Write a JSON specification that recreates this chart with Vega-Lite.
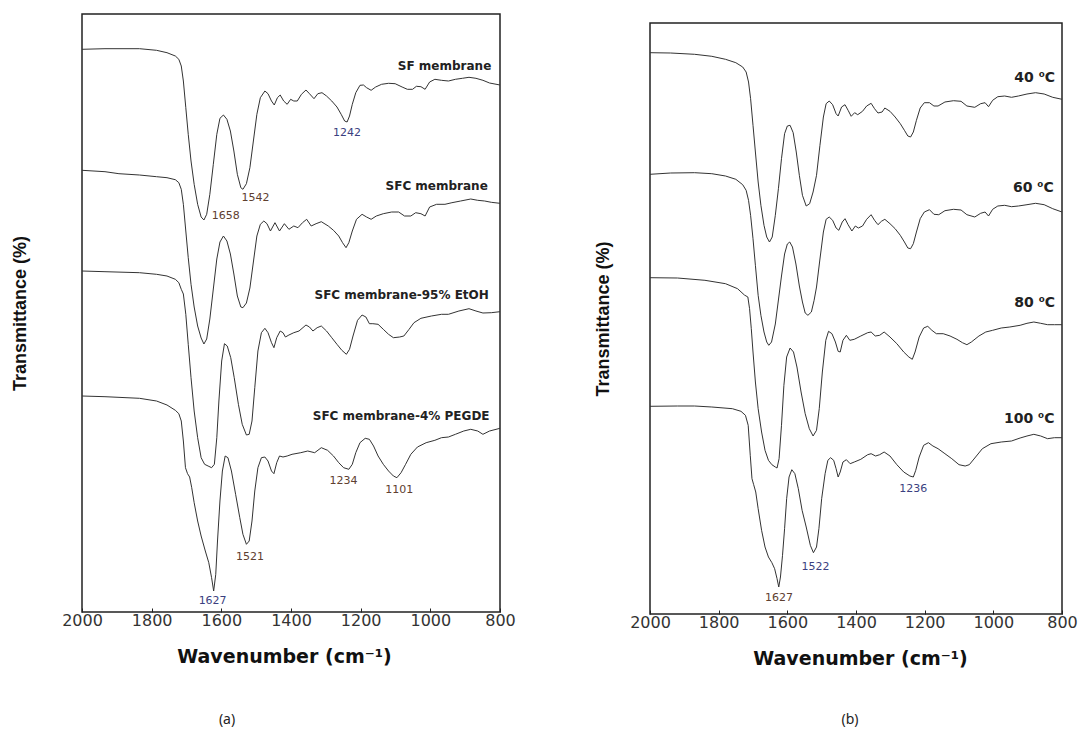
{
  "$schema": "https://vega.github.io/schema/vega-lite/v6.json",
  "background": "white",
  "padding": {"left": 10, "top": 13, "right": 0, "bottom": 0},
  "spacing": 76,
  "config": {
    "view": {"stroke": "#222", "strokeWidth": 1.5},
    "axis": {"grid": false},
    "font": "DejaVu Sans"
  },
  "datasets": {
    "a": [
      {"s":"SF","w":2000,"t":562.7},{"s":"SF","w":1934,"t":563.3},{"s":"SF","w":1835,"t":563.3},{"s":"SF","w":1786,"t":561.7},{"s":"SF","w":1756,"t":559.3},{"s":"SF","w":1732,"t":556},{"s":"SF","w":1722,"t":552.7},{"s":"SF","w":1715,"t":546},{"s":"SF","w":1709,"t":531},{"s":"SF","w":1702,"t":504.3},{"s":"SF","w":1695,"t":477.7},{"s":"SF","w":1687,"t":451},{"s":"SF","w":1678,"t":427.7},{"s":"SF","w":1668,"t":407.7},{"s":"SF","w":1658,"t":395},{"s":"SF","w":1650,"t":392},{"s":"SF","w":1642,"t":397.7},{"s":"SF","w":1633,"t":417.7},{"s":"SF","w":1623,"t":447.7},{"s":"SF","w":1613,"t":477.7},{"s":"SF","w":1604,"t":493.7},{"s":"SF","w":1594,"t":497},{"s":"SF","w":1584,"t":492.7},{"s":"SF","w":1574,"t":481},{"s":"SF","w":1564,"t":461},{"s":"SF","w":1554,"t":437.7},{"s":"SF","w":1544,"t":424.3},{"s":"SF","w":1538,"t":422.7},{"s":"SF","w":1528,"t":428.3},{"s":"SF","w":1518,"t":444.3},{"s":"SF","w":1508,"t":471},{"s":"SF","w":1498,"t":497.7},{"s":"SF","w":1488,"t":514.3},{"s":"SF","w":1475,"t":521},{"s":"SF","w":1466,"t":518.3},{"s":"SF","w":1456,"t":511},{"s":"SF","w":1448,"t":507},{"s":"SF","w":1439,"t":514.3},{"s":"SF","w":1431,"t":517},{"s":"SF","w":1421,"t":511},{"s":"SF","w":1411,"t":507.7},{"s":"SF","w":1401,"t":512.7},{"s":"SF","w":1392,"t":511},{"s":"SF","w":1382,"t":511},{"s":"SF","w":1370,"t":517.7},{"s":"SF","w":1357,"t":522},{"s":"SF","w":1347,"t":518.3},{"s":"SF","w":1334,"t":513.3},{"s":"SF","w":1323,"t":518.3},{"s":"SF","w":1311,"t":519.3},{"s":"SF","w":1298,"t":516},{"s":"SF","w":1283,"t":511},{"s":"SF","w":1268,"t":505},{"s":"SF","w":1256,"t":497.7},{"s":"SF","w":1246,"t":491},{"s":"SF","w":1239,"t":490},{"s":"SF","w":1232,"t":496},{"s":"SF","w":1224,"t":507.7},{"s":"SF","w":1214,"t":519.3},{"s":"SF","w":1202,"t":526.7},{"s":"SF","w":1192,"t":527},{"s":"SF","w":1183,"t":524.3},{"s":"SF","w":1170,"t":521.7},{"s":"SF","w":1157,"t":525},{"s":"SF","w":1140,"t":527.7},{"s":"SF","w":1120,"t":528.7},{"s":"SF","w":1101,"t":528.3},{"s":"SF","w":1081,"t":525},{"s":"SF","w":1066,"t":522.7},{"s":"SF","w":1051,"t":522.7},{"s":"SF","w":1040,"t":525.7},{"s":"SF","w":1027,"t":525.3},{"s":"SF","w":1015,"t":522.7},{"s":"SF","w":1002,"t":530},{"s":"SF","w":987,"t":532.7},{"s":"SF","w":968,"t":531.7},{"s":"SF","w":948,"t":531},{"s":"SF","w":928,"t":532.7},{"s":"SF","w":908,"t":533.7},{"s":"SF","w":889,"t":534.7},{"s":"SF","w":869,"t":533.7},{"s":"SF","w":849,"t":531.7},{"s":"SF","w":830,"t":529},{"s":"SF","w":800,"t":527},
      {"s":"SFC","w":2000,"t":441.7},{"s":"SFC","w":1934,"t":440.3},{"s":"SFC","w":1894,"t":438.3},{"s":"SFC","w":1835,"t":437},{"s":"SFC","w":1786,"t":435.3},{"s":"SFC","w":1756,"t":434.3},{"s":"SFC","w":1732,"t":432.3},{"s":"SFC","w":1722,"t":429.3},{"s":"SFC","w":1715,"t":422.7},{"s":"SFC","w":1709,"t":407.7},{"s":"SFC","w":1702,"t":381},{"s":"SFC","w":1695,"t":354.3},{"s":"SFC","w":1687,"t":327.7},{"s":"SFC","w":1678,"t":305},{"s":"SFC","w":1668,"t":286},{"s":"SFC","w":1658,"t":274},{"s":"SFC","w":1650,"t":268},{"s":"SFC","w":1642,"t":273},{"s":"SFC","w":1633,"t":293},{"s":"SFC","w":1623,"t":323},{"s":"SFC","w":1613,"t":353},{"s":"SFC","w":1604,"t":370},{"s":"SFC","w":1594,"t":376},{"s":"SFC","w":1584,"t":371},{"s":"SFC","w":1574,"t":358},{"s":"SFC","w":1564,"t":338},{"s":"SFC","w":1554,"t":316},{"s":"SFC","w":1544,"t":305},{"s":"SFC","w":1538,"t":304.3},{"s":"SFC","w":1528,"t":309},{"s":"SFC","w":1518,"t":324},{"s":"SFC","w":1508,"t":350},{"s":"SFC","w":1498,"t":376},{"s":"SFC","w":1488,"t":387.7},{"s":"SFC","w":1478,"t":391},{"s":"SFC","w":1469,"t":388.3},{"s":"SFC","w":1459,"t":381},{"s":"SFC","w":1446,"t":389.3},{"s":"SFC","w":1433,"t":381},{"s":"SFC","w":1419,"t":388.3},{"s":"SFC","w":1406,"t":382.7},{"s":"SFC","w":1392,"t":386},{"s":"SFC","w":1380,"t":384.3},{"s":"SFC","w":1367,"t":389.3},{"s":"SFC","w":1355,"t":392.7},{"s":"SFC","w":1342,"t":386},{"s":"SFC","w":1328,"t":388.3},{"s":"SFC","w":1313,"t":390.3},{"s":"SFC","w":1293,"t":386},{"s":"SFC","w":1278,"t":381.7},{"s":"SFC","w":1263,"t":376},{"s":"SFC","w":1252,"t":369.3},{"s":"SFC","w":1242,"t":364.3},{"s":"SFC","w":1234,"t":369.3},{"s":"SFC","w":1224,"t":381},{"s":"SFC","w":1212,"t":392.7},{"s":"SFC","w":1196,"t":397.7},{"s":"SFC","w":1183,"t":395},{"s":"SFC","w":1170,"t":392.7},{"s":"SFC","w":1155,"t":396},{"s":"SFC","w":1135,"t":398.3},{"s":"SFC","w":1111,"t":400},{"s":"SFC","w":1091,"t":400},{"s":"SFC","w":1074,"t":396},{"s":"SFC","w":1056,"t":396},{"s":"SFC","w":1042,"t":399.3},{"s":"SFC","w":1027,"t":398.3},{"s":"SFC","w":1015,"t":396},{"s":"SFC","w":1002,"t":405},{"s":"SFC","w":982,"t":407.7},{"s":"SFC","w":958,"t":407.7},{"s":"SFC","w":938,"t":409.3},{"s":"SFC","w":913,"t":411},{"s":"SFC","w":884,"t":413},{"s":"SFC","w":864,"t":411.7},{"s":"SFC","w":844,"t":411},{"s":"SFC","w":825,"t":409.7},{"s":"SFC","w":800,"t":408.7},
      {"s":"EtOH","w":2000,"t":341},{"s":"EtOH","w":1934,"t":340.3},{"s":"EtOH","w":1835,"t":339.3},{"s":"EtOH","w":1786,"t":337.7},{"s":"EtOH","w":1756,"t":336},{"s":"EtOH","w":1732,"t":332.7},{"s":"EtOH","w":1722,"t":329.3},{"s":"EtOH","w":1715,"t":322.7},{"s":"EtOH","w":1709,"t":318},{"s":"EtOH","w":1702,"t":297.7},{"s":"EtOH","w":1695,"t":267.7},{"s":"EtOH","w":1687,"t":234.3},{"s":"EtOH","w":1678,"t":201},{"s":"EtOH","w":1668,"t":174.3},{"s":"EtOH","w":1658,"t":154.3},{"s":"EtOH","w":1648,"t":147.7},{"s":"EtOH","w":1638,"t":146},{"s":"EtOH","w":1628,"t":144.3},{"s":"EtOH","w":1620,"t":147.7},{"s":"EtOH","w":1613,"t":174.3},{"s":"EtOH","w":1607,"t":211},{"s":"EtOH","w":1599,"t":251},{"s":"EtOH","w":1591,"t":268.3},{"s":"EtOH","w":1583,"t":266},{"s":"EtOH","w":1573,"t":254.3},{"s":"EtOH","w":1563,"t":234.3},{"s":"EtOH","w":1551,"t":207.7},{"s":"EtOH","w":1540,"t":187.7},{"s":"EtOH","w":1528,"t":177},{"s":"EtOH","w":1520,"t":177.7},{"s":"EtOH","w":1512,"t":191},{"s":"EtOH","w":1504,"t":224.3},{"s":"EtOH","w":1495,"t":261},{"s":"EtOH","w":1485,"t":279.3},{"s":"EtOH","w":1475,"t":283.7},{"s":"EtOH","w":1466,"t":279.3},{"s":"EtOH","w":1456,"t":269.3},{"s":"EtOH","w":1449,"t":264.3},{"s":"EtOH","w":1441,"t":274.3},{"s":"EtOH","w":1431,"t":281},{"s":"EtOH","w":1423,"t":279.3},{"s":"EtOH","w":1416,"t":275},{"s":"EtOH","w":1406,"t":277},{"s":"EtOH","w":1392,"t":279.3},{"s":"EtOH","w":1377,"t":281},{"s":"EtOH","w":1357,"t":287},{"s":"EtOH","w":1347,"t":285},{"s":"EtOH","w":1337,"t":281},{"s":"EtOH","w":1325,"t":284.3},{"s":"EtOH","w":1313,"t":286},{"s":"EtOH","w":1298,"t":281},{"s":"EtOH","w":1283,"t":274.3},{"s":"EtOH","w":1268,"t":267.7},{"s":"EtOH","w":1254,"t":261.7},{"s":"EtOH","w":1241,"t":257.7},{"s":"EtOH","w":1232,"t":262.7},{"s":"EtOH","w":1222,"t":276},{"s":"EtOH","w":1209,"t":291.7},{"s":"EtOH","w":1196,"t":297},{"s":"EtOH","w":1185,"t":295},{"s":"EtOH","w":1175,"t":288.3},{"s":"EtOH","w":1165,"t":288.3},{"s":"EtOH","w":1150,"t":287.7},{"s":"EtOH","w":1135,"t":282.7},{"s":"EtOH","w":1120,"t":277.7},{"s":"EtOH","w":1106,"t":274.3},{"s":"EtOH","w":1088,"t":275},{"s":"EtOH","w":1076,"t":276},{"s":"EtOH","w":1061,"t":282.7},{"s":"EtOH","w":1047,"t":289.3},{"s":"EtOH","w":1027,"t":293.7},{"s":"EtOH","w":997,"t":296},{"s":"EtOH","w":968,"t":297.7},{"s":"EtOH","w":948,"t":297.7},{"s":"EtOH","w":918,"t":301},{"s":"EtOH","w":889,"t":303.3},{"s":"EtOH","w":869,"t":301},{"s":"EtOH","w":849,"t":299},{"s":"EtOH","w":825,"t":299.3},{"s":"EtOH","w":800,"t":300.3},
      {"s":"PEGDE","w":2000,"t":216},{"s":"PEGDE","w":1934,"t":215.3},{"s":"PEGDE","w":1835,"t":213.7},{"s":"PEGDE","w":1786,"t":211},{"s":"PEGDE","w":1756,"t":207},{"s":"PEGDE","w":1732,"t":201.7},{"s":"PEGDE","w":1722,"t":198.3},{"s":"PEGDE","w":1715,"t":191},{"s":"PEGDE","w":1709,"t":171},{"s":"PEGDE","w":1703,"t":144.3},{"s":"PEGDE","w":1697,"t":138.3},{"s":"PEGDE","w":1691,"t":135},{"s":"PEGDE","w":1685,"t":124.3},{"s":"PEGDE","w":1678,"t":109.3},{"s":"PEGDE","w":1668,"t":91},{"s":"PEGDE","w":1658,"t":76},{"s":"PEGDE","w":1646,"t":61},{"s":"PEGDE","w":1636,"t":49.3},{"s":"PEGDE","w":1628,"t":34.3},{"s":"PEGDE","w":1622,"t":21},{"s":"PEGDE","w":1616,"t":37.7},{"s":"PEGDE","w":1611,"t":71},{"s":"PEGDE","w":1604,"t":111},{"s":"PEGDE","w":1597,"t":141},{"s":"PEGDE","w":1589,"t":156},{"s":"PEGDE","w":1581,"t":154.3},{"s":"PEGDE","w":1571,"t":141},{"s":"PEGDE","w":1559,"t":117.7},{"s":"PEGDE","w":1547,"t":94.3},{"s":"PEGDE","w":1538,"t":77.7},{"s":"PEGDE","w":1528,"t":67.7},{"s":"PEGDE","w":1520,"t":71},{"s":"PEGDE","w":1512,"t":91},{"s":"PEGDE","w":1504,"t":121},{"s":"PEGDE","w":1495,"t":144.3},{"s":"PEGDE","w":1485,"t":154.3},{"s":"PEGDE","w":1475,"t":155},{"s":"PEGDE","w":1466,"t":151},{"s":"PEGDE","w":1456,"t":141},{"s":"PEGDE","w":1449,"t":138.3},{"s":"PEGDE","w":1441,"t":149.3},{"s":"PEGDE","w":1433,"t":156},{"s":"PEGDE","w":1423,"t":155},{"s":"PEGDE","w":1411,"t":156},{"s":"PEGDE","w":1397,"t":157.7},{"s":"PEGDE","w":1372,"t":159.3},{"s":"PEGDE","w":1352,"t":161},{"s":"PEGDE","w":1332,"t":159.3},{"s":"PEGDE","w":1313,"t":164.3},{"s":"PEGDE","w":1295,"t":161.7},{"s":"PEGDE","w":1278,"t":156},{"s":"PEGDE","w":1263,"t":149.3},{"s":"PEGDE","w":1249,"t":144.3},{"s":"PEGDE","w":1234,"t":142.7},{"s":"PEGDE","w":1224,"t":147.7},{"s":"PEGDE","w":1214,"t":159.3},{"s":"PEGDE","w":1202,"t":169.3},{"s":"PEGDE","w":1187,"t":173.7},{"s":"PEGDE","w":1175,"t":172.7},{"s":"PEGDE","w":1163,"t":166},{"s":"PEGDE","w":1150,"t":156},{"s":"PEGDE","w":1135,"t":147.7},{"s":"PEGDE","w":1120,"t":141},{"s":"PEGDE","w":1106,"t":136},{"s":"PEGDE","w":1096,"t":134.3},{"s":"PEGDE","w":1084,"t":139.3},{"s":"PEGDE","w":1071,"t":147.7},{"s":"PEGDE","w":1056,"t":157.7},{"s":"PEGDE","w":1037,"t":165},{"s":"PEGDE","w":1012,"t":169.3},{"s":"PEGDE","w":987,"t":171.7},{"s":"PEGDE","w":968,"t":174.3},{"s":"PEGDE","w":948,"t":175},{"s":"PEGDE","w":928,"t":177.7},{"s":"PEGDE","w":904,"t":181},{"s":"PEGDE","w":884,"t":182.7},{"s":"PEGDE","w":864,"t":181},{"s":"PEGDE","w":849,"t":177.7},{"s":"PEGDE","w":830,"t":181},{"s":"PEGDE","w":800,"t":183.7}
    ],
    "aLab": [
      {"w":825,"t":546,"txt":"SF membrane"},
      {"w":835,"t":426,"txt":"SFC membrane"},
      {"w":832,"t":317,"txt":"SFC membrane-95% EtOH"},
      {"w":830,"t":196,"txt":"SFC membrane-4% PEGDE"}
    ],
    "aPk": [
      {"w":1239,"t":479,"txt":"1242","k":"1"},
      {"w":1502,"t":414,"txt":"1542","k":"2"},
      {"w":1587,"t":396,"txt":"1658","k":"2"},
      {"w":1625,"t":11,"txt":"1627","k":"1"},
      {"w":1518,"t":55,"txt":"1521","k":"2"},
      {"w":1249,"t":131,"txt":"1234","k":"2"},
      {"w":1089,"t":122,"txt":"1101","k":"2"}
    ],
    "b": [
      {"s":"40","w":2000,"t":561.3},{"s":"40","w":1940,"t":561},{"s":"40","w":1870,"t":559.7},{"s":"40","w":1820,"t":557.7},{"s":"40","w":1780,"t":554.7},{"s":"40","w":1750,"t":551.3},{"s":"40","w":1730,"t":547},{"s":"40","w":1720,"t":542},{"s":"40","w":1713,"t":532},{"s":"40","w":1707,"t":515.3},{"s":"40","w":1700,"t":488.7},{"s":"40","w":1693,"t":462},{"s":"40","w":1685,"t":432},{"s":"40","w":1677,"t":408.7},{"s":"40","w":1668,"t":388.7},{"s":"40","w":1660,"t":377},{"s":"40","w":1652,"t":372},{"s":"40","w":1644,"t":377},{"s":"40","w":1635,"t":398.7},{"s":"40","w":1626,"t":425.3},{"s":"40","w":1617,"t":455.3},{"s":"40","w":1608,"t":480.3},{"s":"40","w":1600,"t":488},{"s":"40","w":1592,"t":488.7},{"s":"40","w":1583,"t":481.3},{"s":"40","w":1574,"t":462},{"s":"40","w":1565,"t":438.7},{"s":"40","w":1556,"t":418.7},{"s":"40","w":1545,"t":408},{"s":"40","w":1535,"t":410.3},{"s":"40","w":1525,"t":422},{"s":"40","w":1515,"t":438.7},{"s":"40","w":1505,"t":468.7},{"s":"40","w":1495,"t":497},{"s":"40","w":1487,"t":510.3},{"s":"40","w":1478,"t":513},{"s":"40","w":1468,"t":509.3},{"s":"40","w":1458,"t":500.3},{"s":"40","w":1452,"t":498},{"s":"40","w":1442,"t":507},{"s":"40","w":1432,"t":509.3},{"s":"40","w":1423,"t":503.7},{"s":"40","w":1414,"t":497.7},{"s":"40","w":1404,"t":501.3},{"s":"40","w":1395,"t":499.3},{"s":"40","w":1381,"t":502.7},{"s":"40","w":1369,"t":508},{"s":"40","w":1356,"t":510.7},{"s":"40","w":1346,"t":505.3},{"s":"40","w":1336,"t":501},{"s":"40","w":1324,"t":502},{"s":"40","w":1316,"t":506},{"s":"40","w":1301,"t":502.7},{"s":"40","w":1286,"t":497},{"s":"40","w":1271,"t":490.3},{"s":"40","w":1259,"t":483.7},{"s":"40","w":1249,"t":478},{"s":"40","w":1241,"t":477},{"s":"40","w":1233,"t":482},{"s":"40","w":1224,"t":493.7},{"s":"40","w":1213,"t":506},{"s":"40","w":1201,"t":511.3},{"s":"40","w":1186,"t":511.3},{"s":"40","w":1173,"t":508},{"s":"40","w":1161,"t":508},{"s":"40","w":1141,"t":512},{"s":"40","w":1116,"t":513.3},{"s":"40","w":1094,"t":512.7},{"s":"40","w":1077,"t":508},{"s":"40","w":1054,"t":506.7},{"s":"40","w":1037,"t":510.3},{"s":"40","w":1024,"t":511.3},{"s":"40","w":1014,"t":507.3},{"s":"40","w":1002,"t":513.7},{"s":"40","w":987,"t":517.3},{"s":"40","w":967,"t":518},{"s":"40","w":947,"t":516.7},{"s":"40","w":927,"t":518},{"s":"40","w":902,"t":520},{"s":"40","w":877,"t":521.3},{"s":"40","w":852,"t":520},{"s":"40","w":827,"t":516.7},{"s":"40","w":800,"t":514.7},
      {"s":"60","w":2000,"t":439.7},{"s":"60","w":1940,"t":441},{"s":"60","w":1870,"t":441.3},{"s":"60","w":1820,"t":440.3},{"s":"60","w":1780,"t":438},{"s":"60","w":1750,"t":434.7},{"s":"60","w":1730,"t":429.3},{"s":"60","w":1720,"t":423.7},{"s":"60","w":1713,"t":413.7},{"s":"60","w":1707,"t":398.7},{"s":"60","w":1700,"t":375.3},{"s":"60","w":1693,"t":348.7},{"s":"60","w":1685,"t":318.7},{"s":"60","w":1677,"t":298.7},{"s":"60","w":1668,"t":282},{"s":"60","w":1660,"t":272},{"s":"60","w":1654,"t":268.7},{"s":"60","w":1646,"t":272},{"s":"60","w":1635,"t":290},{"s":"60","w":1626,"t":314},{"s":"60","w":1617,"t":338},{"s":"60","w":1608,"t":360},{"s":"60","w":1600,"t":370},{"s":"60","w":1593,"t":372},{"s":"60","w":1585,"t":367},{"s":"60","w":1575,"t":350},{"s":"60","w":1565,"t":328},{"s":"60","w":1556,"t":312},{"s":"60","w":1548,"t":301},{"s":"60","w":1540,"t":298.7},{"s":"60","w":1530,"t":302},{"s":"60","w":1522,"t":313.7},{"s":"60","w":1515,"t":327},{"s":"60","w":1505,"t":355},{"s":"60","w":1495,"t":382},{"s":"60","w":1487,"t":394.7},{"s":"60","w":1478,"t":397},{"s":"60","w":1468,"t":393.7},{"s":"60","w":1458,"t":386},{"s":"60","w":1450,"t":383.7},{"s":"60","w":1440,"t":392},{"s":"60","w":1432,"t":395.3},{"s":"60","w":1423,"t":389.3},{"s":"60","w":1412,"t":383},{"s":"60","w":1402,"t":388},{"s":"60","w":1393,"t":386},{"s":"60","w":1381,"t":388},{"s":"60","w":1369,"t":394.7},{"s":"60","w":1356,"t":399.3},{"s":"60","w":1346,"t":393.7},{"s":"60","w":1336,"t":389.3},{"s":"60","w":1326,"t":392.7},{"s":"60","w":1316,"t":394.7},{"s":"60","w":1301,"t":390.3},{"s":"60","w":1286,"t":385.3},{"s":"60","w":1271,"t":378.7},{"s":"60","w":1259,"t":372},{"s":"60","w":1249,"t":366},{"s":"60","w":1241,"t":365.3},{"s":"60","w":1233,"t":370.3},{"s":"60","w":1224,"t":382},{"s":"60","w":1213,"t":395.3},{"s":"60","w":1201,"t":402},{"s":"60","w":1186,"t":404.3},{"s":"60","w":1173,"t":399.7},{"s":"60","w":1159,"t":399.3},{"s":"60","w":1141,"t":403.3},{"s":"60","w":1116,"t":404.7},{"s":"60","w":1094,"t":404},{"s":"60","w":1077,"t":399.3},{"s":"60","w":1054,"t":397},{"s":"60","w":1037,"t":400.7},{"s":"60","w":1024,"t":402},{"s":"60","w":1014,"t":398},{"s":"60","w":1002,"t":404.7},{"s":"60","w":987,"t":408},{"s":"60","w":967,"t":408.7},{"s":"60","w":947,"t":407.3},{"s":"60","w":927,"t":408},{"s":"60","w":902,"t":409.3},{"s":"60","w":877,"t":410.7},{"s":"60","w":852,"t":409.3},{"s":"60","w":827,"t":405.3},{"s":"60","w":800,"t":402},
      {"s":"80","w":2000,"t":336.3},{"s":"80","w":1920,"t":336},{"s":"80","w":1840,"t":333.7},{"s":"80","w":1780,"t":330.3},{"s":"80","w":1745,"t":325.3},{"s":"80","w":1725,"t":319},{"s":"80","w":1715,"t":317},{"s":"80","w":1710,"t":305.3},{"s":"80","w":1705,"t":285.3},{"s":"80","w":1700,"t":262},{"s":"80","w":1693,"t":232},{"s":"80","w":1685,"t":205.3},{"s":"80","w":1675,"t":182},{"s":"80","w":1665,"t":163.7},{"s":"80","w":1655,"t":153.7},{"s":"80","w":1645,"t":149.3},{"s":"80","w":1635,"t":147},{"s":"80","w":1630,"t":146},{"s":"80","w":1624,"t":155.3},{"s":"80","w":1617,"t":188.7},{"s":"80","w":1610,"t":228.7},{"s":"80","w":1602,"t":257},{"s":"80","w":1592,"t":266},{"s":"80","w":1582,"t":262},{"s":"80","w":1572,"t":247},{"s":"80","w":1560,"t":222},{"s":"80","w":1548,"t":200.3},{"s":"80","w":1536,"t":185.3},{"s":"80","w":1525,"t":178},{"s":"80","w":1515,"t":183.7},{"s":"80","w":1507,"t":205.3},{"s":"80","w":1498,"t":242},{"s":"80","w":1488,"t":273.7},{"s":"80","w":1480,"t":282.7},{"s":"80","w":1470,"t":280.3},{"s":"80","w":1460,"t":272},{"s":"80","w":1452,"t":262.7},{"s":"80","w":1446,"t":262},{"s":"80","w":1438,"t":273.7},{"s":"80","w":1428,"t":278.7},{"s":"80","w":1418,"t":273.7},{"s":"80","w":1405,"t":274.7},{"s":"80","w":1386,"t":278},{"s":"80","w":1366,"t":281.3},{"s":"80","w":1356,"t":282},{"s":"80","w":1344,"t":278},{"s":"80","w":1331,"t":278.7},{"s":"80","w":1318,"t":282},{"s":"80","w":1301,"t":277},{"s":"80","w":1281,"t":270.3},{"s":"80","w":1261,"t":262},{"s":"80","w":1246,"t":257},{"s":"80","w":1236,"t":254.7},{"s":"80","w":1228,"t":262},{"s":"80","w":1216,"t":277},{"s":"80","w":1203,"t":286},{"s":"80","w":1191,"t":287.7},{"s":"80","w":1179,"t":283.7},{"s":"80","w":1166,"t":280.3},{"s":"80","w":1146,"t":280.3},{"s":"80","w":1126,"t":278},{"s":"80","w":1106,"t":274.7},{"s":"80","w":1090,"t":271.3},{"s":"80","w":1077,"t":269.3},{"s":"80","w":1064,"t":272},{"s":"80","w":1042,"t":278},{"s":"80","w":1022,"t":282},{"s":"80","w":1002,"t":283.7},{"s":"80","w":977,"t":286},{"s":"80","w":952,"t":287},{"s":"80","w":922,"t":288.7},{"s":"80","w":902,"t":290.7},{"s":"80","w":882,"t":292},{"s":"80","w":862,"t":290.7},{"s":"80","w":842,"t":289.3},{"s":"80","w":822,"t":289.3},{"s":"80","w":800,"t":289.3},
      {"s":"100","w":2000,"t":207.7},{"s":"100","w":1920,"t":208},{"s":"100","w":1870,"t":208},{"s":"100","w":1820,"t":207},{"s":"100","w":1760,"t":205.3},{"s":"100","w":1735,"t":202.7},{"s":"100","w":1722,"t":198.7},{"s":"100","w":1714,"t":188.7},{"s":"100","w":1708,"t":158.7},{"s":"100","w":1703,"t":135.3},{"s":"100","w":1698,"t":129.3},{"s":"100","w":1692,"t":122},{"s":"100","w":1685,"t":105.3},{"s":"100","w":1675,"t":83.7},{"s":"100","w":1665,"t":67},{"s":"100","w":1655,"t":57},{"s":"100","w":1645,"t":51.3},{"s":"100","w":1637,"t":45.3},{"s":"100","w":1630,"t":35.3},{"s":"100","w":1625,"t":27},{"s":"100","w":1620,"t":37},{"s":"100","w":1614,"t":58.7},{"s":"100","w":1608,"t":85.3},{"s":"100","w":1602,"t":115.3},{"s":"100","w":1595,"t":137},{"s":"100","w":1587,"t":144.3},{"s":"100","w":1578,"t":140.3},{"s":"100","w":1568,"t":125.3},{"s":"100","w":1557,"t":103.7},{"s":"100","w":1545,"t":87},{"s":"100","w":1533,"t":68.7},{"s":"100","w":1524,"t":61.3},{"s":"100","w":1515,"t":67},{"s":"100","w":1508,"t":85.3},{"s":"100","w":1500,"t":115.3},{"s":"100","w":1490,"t":140.3},{"s":"100","w":1482,"t":153.7},{"s":"100","w":1474,"t":156.3},{"s":"100","w":1465,"t":153.7},{"s":"100","w":1458,"t":145.3},{"s":"100","w":1452,"t":137},{"s":"100","w":1446,"t":142},{"s":"100","w":1438,"t":152},{"s":"100","w":1428,"t":154.3},{"s":"100","w":1417,"t":150.3},{"s":"100","w":1405,"t":152},{"s":"100","w":1386,"t":154.7},{"s":"100","w":1366,"t":159.3},{"s":"100","w":1356,"t":160.3},{"s":"100","w":1343,"t":158},{"s":"100","w":1331,"t":159.3},{"s":"100","w":1318,"t":162},{"s":"100","w":1301,"t":158},{"s":"100","w":1281,"t":149.3},{"s":"100","w":1261,"t":142},{"s":"100","w":1243,"t":138},{"s":"100","w":1233,"t":137},{"s":"100","w":1226,"t":143.7},{"s":"100","w":1216,"t":157},{"s":"100","w":1203,"t":168.7},{"s":"100","w":1189,"t":171.3},{"s":"100","w":1176,"t":168},{"s":"100","w":1161,"t":165.3},{"s":"100","w":1141,"t":160.3},{"s":"100","w":1121,"t":155.3},{"s":"100","w":1100,"t":149.3},{"s":"100","w":1082,"t":148},{"s":"100","w":1070,"t":149.3},{"s":"100","w":1054,"t":156},{"s":"100","w":1032,"t":165.3},{"s":"100","w":1007,"t":170.3},{"s":"100","w":977,"t":172},{"s":"100","w":947,"t":173},{"s":"100","w":922,"t":176},{"s":"100","w":902,"t":178},{"s":"100","w":882,"t":179.7},{"s":"100","w":862,"t":178},{"s":"100","w":842,"t":175.3},{"s":"100","w":822,"t":176.3},{"s":"100","w":800,"t":176.3}
    ],
    "bLab": [
      {"w":820,"t":536,"txt":"40 ⁰C"},
      {"w":824,"t":426,"txt":"60 ⁰C"},
      {"w":820,"t":311,"txt":"80 ⁰C"},
      {"w":822,"t":195,"txt":"100 ⁰C"}
    ],
    "bPk": [
      {"w":1233,"t":125,"txt":"1236","k":"1"},
      {"w":1518,"t":47,"txt":"1522","k":"1"},
      {"w":1624,"t":16,"txt":"1627","k":"2"}
    ]
  },
  "hconcat": [
    {
      "width": 418,
      "height": 598,
      "title": {"text": "(a)", "orient": "bottom", "font": "Noto Sans", "fontSize": 14, "fontWeight": "normal", "color": "#222", "dx": -64, "offset": 47},
      "layer": [
        {
          "data": {"name": "a"},
          "mark": {"type": "line", "color": "#333", "strokeWidth": 1, "clip": true},
          "encoding": {
            "x": {"field": "w", "type": "quantitative",
              "scale": {"domain": [800, 2000], "reverse": true, "nice": false, "zero": false},
              "axis": {"values": [2000, 1800, 1600, 1400, 1200, 1000, 800], "format": "d", "domain": false, "ticks": true, "tickSize": -4, "tickColor": "#222", "labelFont": "DejaVu Sans", "labelFontSize": 16, "labelColor": "#333", "labelPadding": 4, "labelFlush": false, "labelOverlap": false, "title": "Wavenumber (cm⁻¹)", "titleFont": "DejaVu Sans", "titleFontSize": 19, "titleFontWeight": "bold", "titleColor": "#111", "titlePadding": 19, "titleX": 202}},
            "y": {"field": "t", "type": "quantitative",
              "scale": {"domain": [0, 598], "nice": false, "zero": false},
              "axis": {"labels": false, "ticks": false, "domain": false, "title": "Transmittance (%)", "titleFont": "Liberation Sans", "titleFontSize": 18, "titleFontWeight": "bold", "titleColor": "#111", "titlePadding": 53}},
            "detail": {"field": "s"}
          }
        },
        {
          "data": {"name": "aLab"},
          "mark": {"type": "text", "align": "right", "baseline": "middle", "font": "DejaVu Sans", "fontWeight": "bold", "fontSize": 12, "color": "#222"},
          "encoding": {
            "x": {"field": "w", "type": "quantitative"},
            "y": {"field": "t", "type": "quantitative"},
            "text": {"field": "txt"}
          }
        },
        {
          "data": {"name": "aPk"},
          "mark": {"type": "text", "align": "center", "baseline": "middle", "font": "DejaVu Sans", "fontSize": 11},
          "encoding": {
            "x": {"field": "w", "type": "quantitative"},
            "y": {"field": "t", "type": "quantitative"},
            "text": {"field": "txt"},
            "color": {"field": "k", "type": "nominal", "scale": {"domain": ["1", "2"], "range": ["#3b3f80", "#5e4030"]}, "legend": null}
          }
        }
      ]
    },
    {
      "spacing": 7,
      "vconcat": [
        {
          "width": 412,
          "height": 1,
          "view": {"stroke": null},
          "data": {"values": [{"v": 0}]},
          "mark": {"type": "rule", "opacity": 0},
          "encoding": {}
        },
        {
          "width": 412,
          "height": 591,
          "title": {"text": "(b)", "orient": "bottom", "font": "Noto Sans", "fontSize": 14, "fontWeight": "normal", "color": "#222", "dx": -6, "offset": 45},
          "layer": [
            {
              "data": {"name": "b"},
              "mark": {"type": "line", "color": "#333", "strokeWidth": 1, "clip": true},
              "encoding": {
                "x": {"field": "w", "type": "quantitative",
                  "scale": {"domain": [800, 2000], "reverse": true, "nice": false, "zero": false},
                  "axis": {"values": [2000, 1800, 1600, 1400, 1200, 1000, 800], "format": "d", "domain": false, "ticks": true, "tickSize": -4, "tickColor": "#222", "labelFont": "DejaVu Sans", "labelFontSize": 16, "labelColor": "#333", "labelPadding": 4, "labelFlush": false, "labelOverlap": false, "title": "Wavenumber (cm⁻¹)", "titleFont": "DejaVu Sans", "titleFontSize": 19, "titleFontWeight": "bold", "titleColor": "#111", "titlePadding": 19, "titleX": 210}},
                "y": {"field": "t", "type": "quantitative",
                  "scale": {"domain": [0, 591], "nice": false, "zero": false},
                  "axis": {"labels": false, "ticks": false, "domain": false, "title": "Transmittance (%)", "titleFont": "Liberation Sans", "titleFontSize": 18, "titleFontWeight": "bold", "titleColor": "#111", "titlePadding": 38}},
                "detail": {"field": "s"}
              }
            },
            {
              "data": {"name": "bLab"},
              "mark": {"type": "text", "align": "right", "baseline": "middle", "font": "DejaVu Sans", "fontWeight": "bold", "fontSize": 14, "color": "#222"},
              "encoding": {
                "x": {"field": "w", "type": "quantitative"},
                "y": {"field": "t", "type": "quantitative"},
                "text": {"field": "txt"}
              }
            },
            {
              "data": {"name": "bPk"},
              "mark": {"type": "text", "align": "center", "baseline": "middle", "font": "DejaVu Sans", "fontSize": 11},
              "encoding": {
                "x": {"field": "w", "type": "quantitative"},
                "y": {"field": "t", "type": "quantitative"},
                "text": {"field": "txt"},
                "color": {"field": "k", "type": "nominal", "scale": {"domain": ["1", "2"], "range": ["#3b3f80", "#5e4030"]}, "legend": null}
              }
            }
          ]
        }
      ]
    }
  ]
}
